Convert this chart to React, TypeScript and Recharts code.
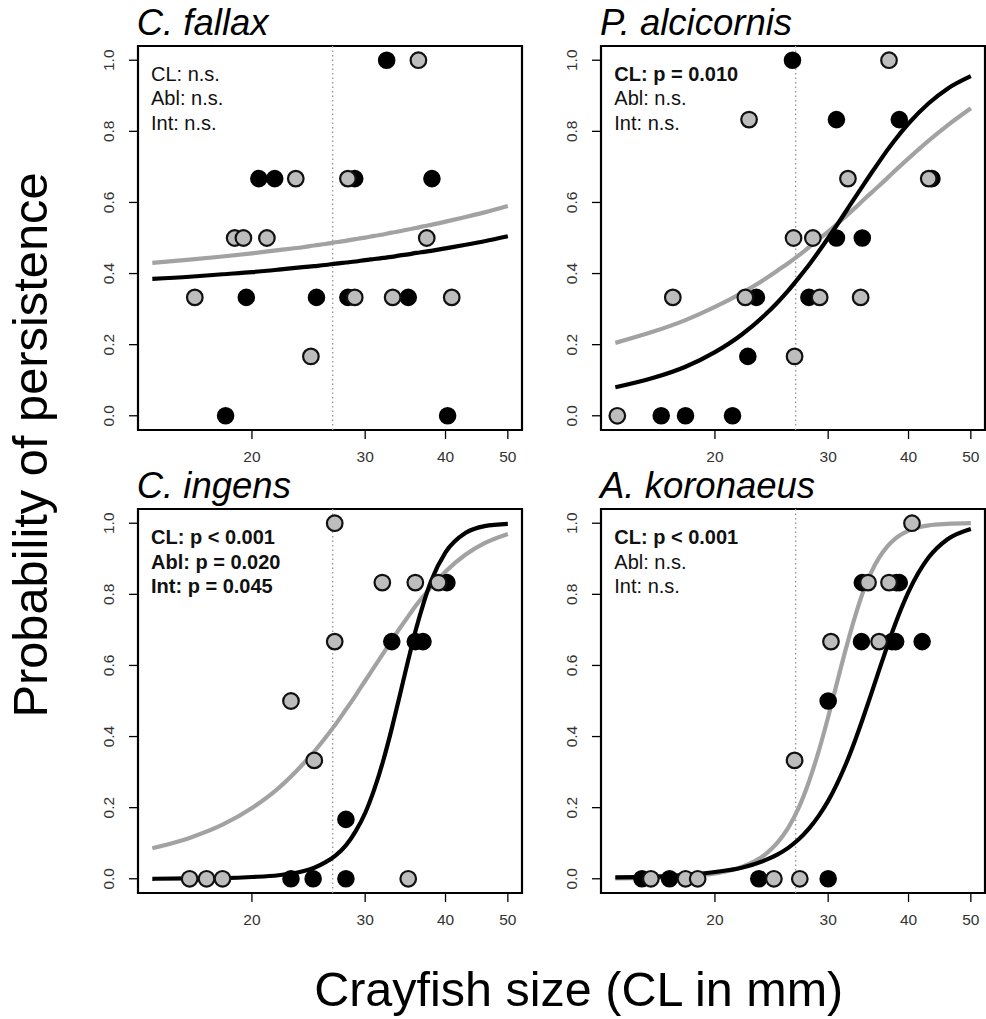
import React from "react";
import {
  ComposedChart,
  Scatter,
  Line,
  XAxis,
  YAxis,
  ReferenceLine,
  ReferenceArea,
} from "recharts";

// ---------- data ----------
const X_TICKS = [20, 30, 40, 50];
const Y_TICKS = [0, 0.2, 0.4, 0.6, 0.8, 1.0];
const X_DOMAIN: [number, number] = [13.3, 52.6];
const Y_DOMAIN: [number, number] = [-0.04, 1.04];
const THRESHOLD_CL = 26.7;

const CURVE_CL = [14, 16, 18, 20, 22, 24, 25, 26, 27, 28, 29, 30, 31, 32, 33, 34, 35, 36, 37, 38, 40, 43, 46, 50];

const fallaxGrayCurve = [0.43, 0.439, 0.448, 0.457, 0.466, 0.474, 0.479, 0.483, 0.488, 0.492, 0.497, 0.501, 0.506, 0.51, 0.515, 0.519, 0.524, 0.528, 0.533, 0.537, 0.546, 0.559, 0.572, 0.59];
const fallaxBlackCurve = [0.385, 0.391, 0.398, 0.404, 0.411, 0.418, 0.421, 0.424, 0.428, 0.431, 0.434, 0.438, 0.441, 0.444, 0.447, 0.451, 0.454, 0.458, 0.461, 0.464, 0.471, 0.481, 0.491, 0.505];
const alciGrayCurve = [0.205, 0.236, 0.269, 0.306, 0.345, 0.386, 0.408, 0.429, 0.451, 0.474, 0.496, 0.518, 0.54, 0.562, 0.584, 0.606, 0.627, 0.647, 0.667, 0.687, 0.724, 0.774, 0.817, 0.865];
const alciBlackCurve = [0.08, 0.106, 0.138, 0.179, 0.228, 0.286, 0.318, 0.352, 0.388, 0.424, 0.462, 0.5, 0.538, 0.576, 0.613, 0.648, 0.682, 0.714, 0.745, 0.773, 0.822, 0.879, 0.92, 0.955];
const ingensGrayCurve = [0.086, 0.115, 0.152, 0.199, 0.255, 0.322, 0.358, 0.396, 0.435, 0.476, 0.516, 0.557, 0.596, 0.634, 0.671, 0.706, 0.738, 0.769, 0.796, 0.821, 0.864, 0.912, 0.944, 0.97];
const ingensBlackCurve = [0.0, 0.001, 0.002, 0.005, 0.01, 0.021, 0.031, 0.046, 0.066, 0.094, 0.134, 0.185, 0.252, 0.332, 0.423, 0.52, 0.615, 0.703, 0.777, 0.838, 0.918, 0.973, 0.992, 0.998];
const koroGrayCurve = [0.001, 0.003, 0.007, 0.015, 0.033, 0.07, 0.101, 0.143, 0.2, 0.273, 0.359, 0.455, 0.555, 0.65, 0.735, 0.807, 0.862, 0.903, 0.933, 0.954, 0.979, 0.994, 0.998, 1.0];
const koroBlackCurve = [0.004, 0.006, 0.011, 0.019, 0.031, 0.053, 0.068, 0.087, 0.111, 0.141, 0.177, 0.219, 0.269, 0.325, 0.387, 0.453, 0.52, 0.587, 0.65, 0.709, 0.807, 0.904, 0.955, 0.984];

// points: [CL, proportion persisting]
const fallaxBlack = [[32.4, 1], [20.5, 0.667], [21.7, 0.667], [28.9, 0.667], [38.1, 0.667], [19.6, 0.333], [25.2, 0.333], [28.2, 0.333], [35.0, 0.333], [18.2, 0], [40.3, 0]];
const fallaxGray = [[36.3, 1], [23.4, 0.667], [28.2, 0.667], [18.8, 0.5], [19.4, 0.5], [21.1, 0.5], [37.4, 0.5], [16.3, 0.333], [28.9, 0.333], [33.1, 0.333], [40.9, 0.333], [24.7, 0.167]];
const alciBlack = [[26.4, 1], [30.9, 0.833], [38.7, 0.833], [43.5, 0.667], [30.9, 0.5], [33.9, 0.5], [23.2, 0.333], [28.0, 0.333], [22.5, 0.167], [16.5, 0], [18.0, 0], [21.3, 0]];
const alciGray = [[37.3, 1], [22.6, 0.833], [32.2, 0.667], [43.0, 0.667], [26.5, 0.5], [28.4, 0.5], [17.2, 0.333], [22.3, 0.333], [29.1, 0.333], [33.7, 0.333], [26.6, 0.167], [14.1, 0]];
const ingensBlack = [[40.2, 0.833], [33.0, 0.667], [35.9, 0.667], [36.9, 0.667], [28.0, 0.167], [23.0, 0], [24.9, 0], [28.0, 0]];
const ingensGray = [[26.9, 1], [31.9, 0.833], [35.9, 0.833], [39.0, 0.833], [26.9, 0.667], [23.0, 0.5], [25.0, 0.333], [16.0, 0], [17.0, 0], [18.0, 0], [35.0, 0]];
const koroBlack = [[33.9, 0.833], [38.3, 0.833], [38.7, 0.833], [33.8, 0.667], [37.7, 0.667], [38.2, 0.667], [42.0, 0.667], [30.0, 0.5], [15.4, 0], [17.0, 0], [23.4, 0], [30.0, 0]];
const koroGray = [[40.5, 1], [34.6, 0.833], [37.3, 0.833], [30.3, 0.667], [36.0, 0.667], [26.6, 0.333], [15.9, 0], [18.0, 0], [18.8, 0], [24.7, 0], [27.1, 0]];

const fallaxNotes = [["CL: n.s.", false], ["Abl: n.s.", false], ["Int: n.s.", false]];
const alciNotes = [["CL: p = 0.010", true], ["Abl: n.s.", false], ["Int: n.s.", false]];
const ingensNotes = [["CL: p < 0.001", true], ["Abl: p = 0.020", true], ["Int: p = 0.045", true]];
const koroNotes = [["CL: p < 0.001", true], ["Abl: n.s.", false], ["Int: n.s.", false]];

// ---------- layout ----------
const FONT = "'Liberation Sans', Arial, Helvetica, sans-serif";
const PLOT = 384;
const Y_AXIS_W = 70;
const TOP_M = 50;
const X_AXIS_H = 50;
const RIGHT_M = 5;
const CHART_W = Y_AXIS_W + PLOT + RIGHT_M;
const CHART_H = TOP_M + PLOT + X_AXIS_H;

const toPts = (arr: number[][]) => arr.map(([cl, p]) => ({ cl, p }));
const toCurve = (vals: number[]) => CURVE_CL.map((cl, i) => ({ cl, p: vals[i] }));

const BlackDot = (props: any) =>
  props.cx == null ? null : (
    <circle cx={props.cx} cy={props.cy} r={7.8} fill="#000" stroke="#000" strokeWidth={2} />
  );
const GrayDot = (props: any) =>
  props.cx == null ? null : (
    <circle cx={props.cx} cy={props.cy} r={7.8} fill="#bdbdbd" stroke="#111" strokeWidth={2.2} />
  );

const YTick = (props: any) => {
  const { x, y, payload } = props;
  return (
    <text
      x={x}
      y={y}
      transform={`rotate(-90, ${x}, ${y})`}
      textAnchor="middle"
      fontSize={15.5}
      fontFamily={FONT}
      fill="#333"
    >
      {Number(payload.value).toFixed(1)}
    </text>
  );
};

type PanelProps = {
  boxLeft: number;
  boxTop: number;
  black: number[][];
  gray: number[][];
  grayCurve: number[];
  blackCurve: number[];
};

const Panel = ({ boxLeft, boxTop, black, gray, grayCurve, blackCurve }: PanelProps) => (
  <div style={{ position: "absolute", left: boxLeft - Y_AXIS_W, top: boxTop - TOP_M }}>
    <ComposedChart
      width={CHART_W}
      height={CHART_H}
      margin={{ top: TOP_M, right: RIGHT_M, bottom: 0, left: 0 }}
    >
      <XAxis
        dataKey="cl"
        type="number"
        scale="log"
        domain={X_DOMAIN}
        allowDataOverflow
        ticks={X_TICKS}
        height={X_AXIS_H}
        axisLine={false}
        tickLine={{ stroke: "#000", strokeWidth: 1.3 }}
        tickSize={9}
        tickMargin={12}
        tick={{ fontSize: 15.5, fontFamily: FONT, fill: "#333" }}
        interval={0}
      />
      <YAxis
        dataKey="p"
        type="number"
        domain={Y_DOMAIN}
        allowDataOverflow
        ticks={Y_TICKS}
        width={Y_AXIS_W}
        axisLine={false}
        tickLine={{ stroke: "#000", strokeWidth: 1.3 }}
        tickSize={9}
        tickMargin={15}
        tick={<YTick />}
        interval={0}
      />
      <ReferenceLine x={THRESHOLD_CL} stroke="#9a9a9a" strokeWidth={1.4} strokeDasharray="1.5 3" />
      <Scatter data={toPts(black)} dataKey="p" shape={<BlackDot />} isAnimationActive={false} />
      <Scatter data={toPts(gray)} dataKey="p" shape={<GrayDot />} isAnimationActive={false} />
      <Line
        data={toCurve(grayCurve)}
        dataKey="p"
        type="monotone"
        stroke="#a2a2a2"
        strokeWidth={4.2}
        dot={false}
        activeDot={false}
        isAnimationActive={false}
      />
      <Line
        data={toCurve(blackCurve)}
        dataKey="p"
        type="monotone"
        stroke="#000"
        strokeWidth={4.2}
        dot={false}
        activeDot={false}
        isAnimationActive={false}
      />
      <ReferenceArea
        x1={X_DOMAIN[0]}
        x2={X_DOMAIN[1]}
        y1={Y_DOMAIN[0]}
        y2={Y_DOMAIN[1]}
        fill="none"
        fillOpacity={0}
        stroke="#000"
        strokeWidth={2.2}
        ifOverflow="visible"
      />
    </ComposedChart>
  </div>
);

const PANELS = [
  { title: "C. fallax", boxLeft: 137.7, boxTop: 45.7, black: fallaxBlack, gray: fallaxGray, grayCurve: fallaxGrayCurve, blackCurve: fallaxBlackCurve, notes: fallaxNotes },
  { title: "P. alcicornis", boxLeft: 601, boxTop: 45.7, black: alciBlack, gray: alciGray, grayCurve: alciGrayCurve, blackCurve: alciBlackCurve, notes: alciNotes },
  { title: "C. ingens", boxLeft: 137.7, boxTop: 509.3, black: ingensBlack, gray: ingensGray, grayCurve: ingensGrayCurve, blackCurve: ingensBlackCurve, notes: ingensNotes },
  { title: "A. koronaeus", boxLeft: 601, boxTop: 509.3, black: koroBlack, gray: koroGray, grayCurve: koroGrayCurve, blackCurve: koroBlackCurve, notes: koroNotes },
];

export default function App() {
  return (
    <div
      style={{
        position: "absolute",
        left: 0,
        top: 0,
        width: 986,
        height: 1019,
        overflow: "hidden",
        background: "#fff",
      }}
    >
      {PANELS.map((p) => (
        <Panel
          key={p.title}
          boxLeft={p.boxLeft}
          boxTop={p.boxTop}
          black={p.black}
          gray={p.gray}
          grayCurve={p.grayCurve}
          blackCurve={p.blackCurve}
        />
      ))}
      <svg
        width={986}
        height={1019}
        style={{ position: "absolute", left: 0, top: 0, pointerEvents: "none" }}
      >
        {PANELS.map((p) => (
          <g key={p.title}>
            <text
              x={p.boxLeft - 1}
              y={p.boxTop - 11}
              fontSize={36.5}
              fontStyle="italic"
              fontFamily={FONT}
              fill="#000"
            >
              {p.title}
            </text>
            {p.notes.map(([t, bold], i) => (
              <text
                key={i}
                x={p.boxLeft + 13.3}
                y={p.boxTop + 35 + i * 24.5}
                fontSize={20}
                fontWeight={bold ? "bold" : "normal"}
                fontFamily={FONT}
                fill="#111"
              >
                {t as string}
              </text>
            ))}
          </g>
        ))}
        <text
          x={46.5}
          y={445}
          transform="rotate(-90, 46.5, 445)"
          textAnchor="middle"
          fontSize={48.8}
          fontFamily={FONT}
          fill="#000"
        >
          Probability of persistence
        </text>
        <text
          x={578.7}
          y={1005.7}
          textAnchor="middle"
          fontSize={48.5}
          fontFamily={FONT}
          fill="#000"
        >
          Crayfish size (CL in mm)
        </text>
      </svg>
    </div>
  );
}
